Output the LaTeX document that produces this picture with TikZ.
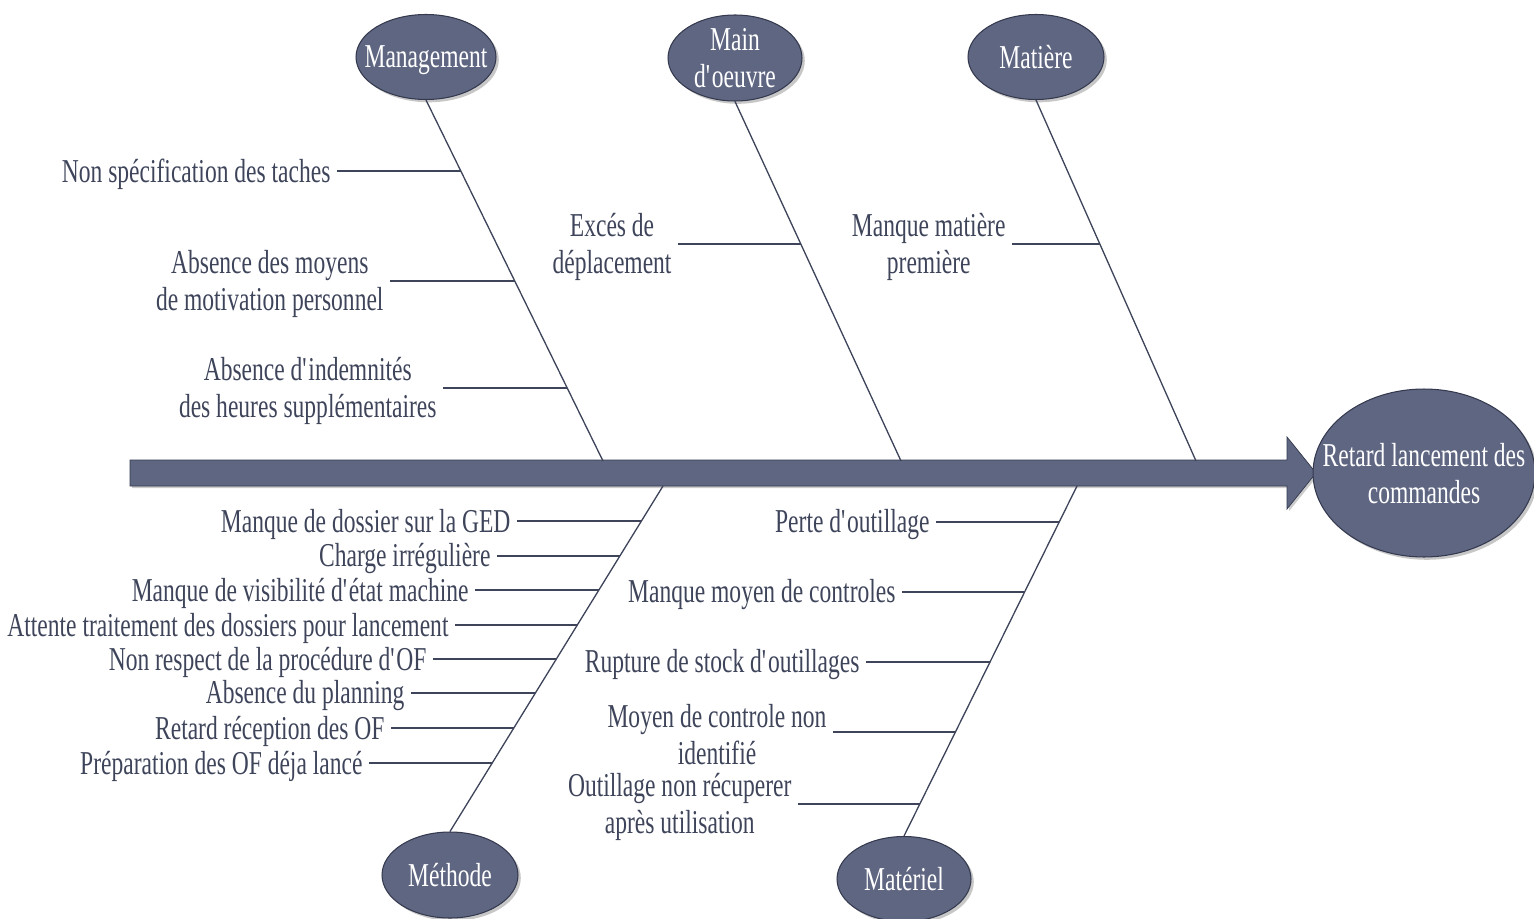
\documentclass[tikz,border=0pt]{standalone}
\usepackage{fontspec}
\setmainfont{Liberation Serif}[FakeStretch=0.705]
\usetikzlibrary{shapes.geometric,shadows,calc}

\definecolor{inkc}{RGB}{62,68,90}
\definecolor{catfill}{RGB}{95,102,130}
\definecolor{catedge}{RGB}{52,57,78}

\newcommand\ap{\textquotesingle}
% horizontal rib from a cause label to the point of the bone at the same height
\newcommand\rib[3]{%
  \path (#3.east) ++(0,1.7pt) coordinate (#3r);
  \draw[ribline] (#3r) -- (intersection cs: first line={(#1)--(#2)},
    second line={(#3r)--($(#3r)+(10pt,0)$)});}

\begin{document}
\begin{tikzpicture}[x=0.02cm,y=-0.02cm,
  font=\fontsize{19}{21}\selectfont,
  cat/.style={ellipse, fill=catfill, draw=catedge, line width=0.6pt,
    text=white, inner xsep=-9pt, inner ysep=0pt, align=center, text depth=0pt,
    drop shadow={shadow xshift=1.6pt, shadow yshift=-1.6pt, fill=black, opacity=0.22}},
  cause/.style={anchor=east, text=inkc, align=center, inner xsep=3.5pt,
    inner ysep=0pt, yshift=-1.7pt},
  bone/.style={draw=inkc, line width=0.75pt},
  ribline/.style={draw=inkc, line width=1pt}]
\useasboundingbox (0,0) rectangle (1534,919);

% main spine with arrow head
\path[fill=catfill, draw=catedge, line width=0.4pt,
  drop shadow={shadow xshift=1.2pt, shadow yshift=-1.2pt, fill=black, opacity=0.2}]
  (130,460) -- (1287,460) -- (1287,437) -- (1316,473) -- (1287,509)
  -- (1287,486) -- (130,486) -- cycle;

% effect
\node[cat, inner xsep=-16pt, minimum width=4.44cm, minimum height=3.36cm] (eff) at (1424,473)
  {Retard lancement des\\commandes};

% categories
\node[cat, minimum width=2.8cm,  minimum height=1.7cm]  (mgmt) at (426,57)  {Management};
\node[cat, minimum width=2.68cm, minimum height=1.72cm] (mo)   at (735,58)  {Main\\d\ap{}oeuvre};
\node[cat, minimum width=2.72cm, minimum height=1.7cm]  (mat)  at (1036,57) {Matière};
\node[cat, minimum width=2.72cm, minimum height=1.72cm] (meth) at (450,875) {Méthode};
\node[cat, minimum width=2.68cm, minimum height=1.7cm]  (matl) at (904,879) {Matériel};

% bone ends on the spine
\coordinate (mgmtS) at (603,461);
\coordinate (moS)   at (901,461);
\coordinate (matS)  at (1196,461);
\coordinate (methS) at (663,486);
\coordinate (matlS) at (1077,486);

\draw[bone] (mgmt.south) -- (mgmtS);
\draw[bone] (mo.south)   -- (moS);
\draw[bone] (mat.south)  -- (matS);
\draw[bone] (meth.north) -- (methS);
\draw[bone] (matl.north) -- (matlS);

% Management causes
\node[cause] (a1) at (337,171) {Non spécification des taches};
\node[cause] (a2) at (390,281) {Absence des moyens\\de motivation personnel};
\node[cause] (a3) at (443,388) {Absence d\ap{}indemnités\\des heures supplémentaires};
\rib{mgmt.south}{mgmtS}{a1}
\rib{mgmt.south}{mgmtS}{a2}
\rib{mgmt.south}{mgmtS}{a3}

% Main d'oeuvre causes
\node[cause] (b1) at (678,244) {Excés de\\déplacement};
\rib{mo.south}{moS}{b1}

% Matière causes
\node[cause] (c1) at (1012,244) {Manque matière\\première};
\rib{mat.south}{matS}{c1}

% Méthode causes
\node[cause] (d1) at (517,521) {Manque de dossier sur la GED};
\node[cause] (d2) at (497,556) {Charge irrégulière};
\node[cause] (d3) at (475,590) {Manque de visibilité d\ap{}état machine};
\node[cause] (d4) at (455,625) {Attente traitement des dossiers pour lancement};
\node[cause] (d5) at (433,659) {Non respect de la procédure d\ap{}OF};
\node[cause] (d6) at (411,693) {Absence du planning};
\node[cause] (d7) at (391,728) {Retard réception des OF};
\node[cause] (d8) at (369,763) {Préparation des OF déja lancé};
\foreach \k in {d1,d2,d3,d4,d5,d6,d7,d8}{\rib{meth.north}{methS}{\k}}

% Matériel causes
\node[cause] (e1) at (936,522) {Perte d\ap{}outillage};
\node[cause] (e2) at (902,592) {Manque moyen de controles};
\node[cause] (e3) at (866,662) {Rupture de stock d\ap{}outillages};
\node[cause] (e4) at (833,732) {Moyen de controle non\\identifié};
\node[cause] (e5) at (798,804) {Outillage non récuperer\\après utilisation};
\foreach \k in {e1,e2,e3,e4,e5}{\rib{matl.north}{matlS}{\k}}
\end{tikzpicture}
\end{document}
